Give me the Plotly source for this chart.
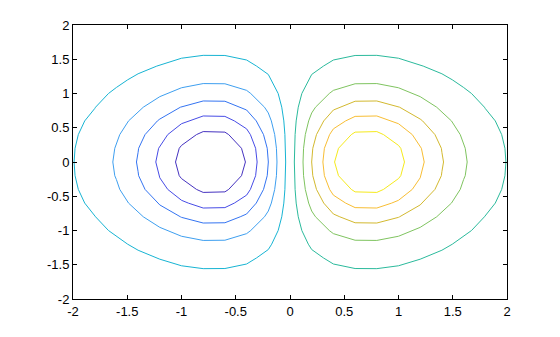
import plotly.graph_objects as go

# Contour levels (z values) and line colours
levels = [-0.345, -0.268, -0.192, -0.115, -0.038, 0.038, 0.115, 0.192, 0.268, 0.345]

# y vertices (shared by the mirrored negative / positive contours of equal |level|)
y_l1 = [0, 0.2, 0.4, 0.436, 0.444, 0.4, 0.242, 0.2, 0, -0.2, -0.242, -0.4, -0.444, -0.436, -0.4, -0.2, 0]
y_l2 = [0, 0.2, 0.4, 0.484, 0.6, 0.666, 0.672, 0.6, 0.559, 0.4, 0.231, 0.2, 0, -0.2, -0.231, -0.4, -0.559, -0.6, -0.672, -0.666, -0.6, -0.484, -0.4, -0.2, 0]
y_l3 = [0, 0.011, 0.2, 0.4, 0.6, 0.759, 0.8, 0.887, 0.891, 0.808, 0.8, 0.627, 0.6, 0.4, 0.2, 0.141, 0, -0.141, -0.2, -0.4, -0.6, -0.627, -0.8, -0.808, -0.891, -0.887, -0.8, -0.759, -0.6, -0.4, -0.2, -0.011, 0]
y_l4 = [0, 0.2, 0.4, 0.6, 0.716, 0.8, 1.0, 1.046, 1.142, 1.145, 1.084, 1.0, 0.954, 0.8, 0.734, 0.6, 0.4, 0.256, 0.2, 0, -0.2, -0.256, -0.4, -0.6, -0.734, -0.8, -0.954, -1.0, -1.084, -1.145, -1.142, -1.046, -1.0, -0.8, -0.716, -0.6, -0.4, -0.2, 0]
y_l5 = [0, 0.2, 0.4, 0.6, 0.8, 1.0, 1.2, 1.278, 1.4, 1.489, 1.555, 1.557, 1.515, 1.419, 1.4, 1.288, 1.2, 1.088, 1.0, 0.8, 0.78, 0.6, 0.4, 0.2, 0, -0.2, -0.4, -0.6, -0.78, -0.8, -1.0, -1.088, -1.2, -1.288, -1.4, -1.419, -1.515, -1.557, -1.555, -1.489, -1.4, -1.278, -1.2, -1.0, -0.8, -0.6, -0.4, -0.2, 0]

# x vertices, left (negative levels)
xn_l1 = [-0.411, -0.447, -0.565, -0.6, -0.8, -0.862, -1.0, -1.021, -1.055, -1.021, -1.0, -0.862, -0.8, -0.6, -0.565, -0.447, -0.411]
xn_l2 = [-0.303, -0.317, -0.365, -0.4, -0.513, -0.6, -0.8, -0.937, -1.0, -1.127, -1.2, -1.211, -1.237, -1.211, -1.2, -1.127, -1.0, -0.937, -0.8, -0.6, -0.513, -0.4, -0.365, -0.317, -0.303]
xn_l3 = [-0.1996, -0.2, -0.21, -0.244, -0.311, -0.4, -0.459, -0.6, -0.8, -1.0, -1.01, -1.2, -1.222, -1.336, -1.395, -1.4, -1.415, -1.4, -1.395, -1.336, -1.222, -1.2, -1.01, -1.0, -0.8, -0.6, -0.459, -0.4, -0.311, -0.244, -0.21, -0.2, -0.1996]
xn_l4 = [-0.12, -0.125, -0.141, -0.172, -0.2, -0.235, -0.362, -0.4, -0.6, -0.8, -1.0, -1.132, -1.2, -1.352, -1.4, -1.488, -1.569, -1.6, -1.615, -1.633, -1.615, -1.6, -1.569, -1.488, -1.4, -1.352, -1.2, -1.132, -1.0, -0.8, -0.6, -0.4, -0.362, -0.235, -0.2, -0.172, -0.141, -0.125, -0.12]
xn_l5 = [-0.04, -0.042, -0.047, -0.057, -0.076, -0.109, -0.169, -0.2, -0.308, -0.4, -0.6, -0.8, -1.0, -1.2, -1.228, -1.4, -1.496, -1.6, -1.673, -1.792, -1.8, -1.892, -1.951, -1.981, -1.99, -1.981, -1.951, -1.892, -1.8, -1.792, -1.673, -1.6, -1.496, -1.4, -1.228, -1.2, -1.0, -0.8, -0.6, -0.4, -0.308, -0.2, -0.169, -0.109, -0.076, -0.057, -0.047, -0.042, -0.04]

# x vertices, right (positive levels)
xp_l1 = [0.411, 0.447, 0.565, 0.6, 0.8, 0.862, 1.0, 1.021, 1.055, 1.021, 1.0, 0.862, 0.8, 0.6, 0.565, 0.447, 0.411]
xp_l2 = [0.303, 0.317, 0.365, 0.4, 0.513, 0.6, 0.8, 0.937, 1.0, 1.127, 1.2, 1.211, 1.237, 1.211, 1.2, 1.127, 1.0, 0.937, 0.8, 0.6, 0.513, 0.4, 0.365, 0.317, 0.303]
xp_l3 = [0.1996, 0.2, 0.21, 0.244, 0.311, 0.4, 0.459, 0.6, 0.8, 1.0, 1.01, 1.2, 1.222, 1.336, 1.395, 1.4, 1.415, 1.4, 1.395, 1.336, 1.222, 1.2, 1.01, 1.0, 0.8, 0.6, 0.459, 0.4, 0.311, 0.244, 0.21, 0.2, 0.1996]
xp_l4 = [0.12, 0.125, 0.141, 0.172, 0.2, 0.235, 0.362, 0.4, 0.6, 0.8, 1.0, 1.132, 1.2, 1.352, 1.4, 1.488, 1.569, 1.6, 1.615, 1.633, 1.615, 1.6, 1.569, 1.488, 1.4, 1.352, 1.2, 1.132, 1.0, 0.8, 0.6, 0.4, 0.362, 0.235, 0.2, 0.172, 0.141, 0.125, 0.12]
xp_l5 = [0.04, 0.042, 0.047, 0.057, 0.076, 0.109, 0.169, 0.2, 0.308, 0.4, 0.6, 0.8, 1.0, 1.2, 1.228, 1.4, 1.496, 1.6, 1.673, 1.792, 1.8, 1.892, 1.951, 1.981, 1.99, 1.981, 1.951, 1.892, 1.8, 1.792, 1.673, 1.6, 1.496, 1.4, 1.228, 1.2, 1.0, 0.8, 0.6, 0.4, 0.308, 0.2, 0.169, 0.109, 0.076, 0.057, 0.047, 0.042, 0.04]

tick_vals = [-2, -1.5, -1, -0.5, 0, 0.5, 1, 1.5, 2]
tick_text = ["-2", "-1.5", "-1", "-0.5", "0", "0.5", "1", "1.5", "2"]

curves = [
    (xn_l1, y_l1, "#4532c0"),
    (xn_l2, y_l2, "#474ce6"),
    (xn_l3, y_l3, "#3474f2"),
    (xn_l4, y_l4, "#3e9ff0"),
    (xn_l5, y_l5, "#17b4d3"),
    (xp_l5, y_l5, "#2bba9c"),
    (xp_l4, y_l4, "#7fc460"),
    (xp_l3, y_l3, "#d3b92f"),
    (xp_l2, y_l2, "#f8be34"),
    (xp_l1, y_l1, "#f6ea1c"),
]

fig = go.Figure()
for (cx, cy, col), lv in zip(curves, levels):
    fig.add_trace(go.Scatter(x=cx, y=cy, mode="lines", name=str(lv),
                             line=dict(color=col, width=1), showlegend=False,
                             hoverinfo="skip"))

axis_common = dict(
    range=[-2, 2], tickmode="array", tickvals=tick_vals, ticktext=tick_text,
    ticks="inside", ticklen=4, tickwidth=1, tickcolor="black",
    showline=True, linecolor="black", linewidth=1, mirror="ticks",
    showgrid=False, zeroline=False,
    tickfont=dict(family="Liberation Sans, Arial, sans-serif", size=13, color="black"),
)

fig.update_layout(
    width=560, height=337,
    margin=dict(l=73, r=53, t=25, b=38),
    paper_bgcolor="white", plot_bgcolor="white",
    xaxis=dict(**axis_common),
    yaxis=dict(**axis_common),
)

fig.write_html("out.html")
